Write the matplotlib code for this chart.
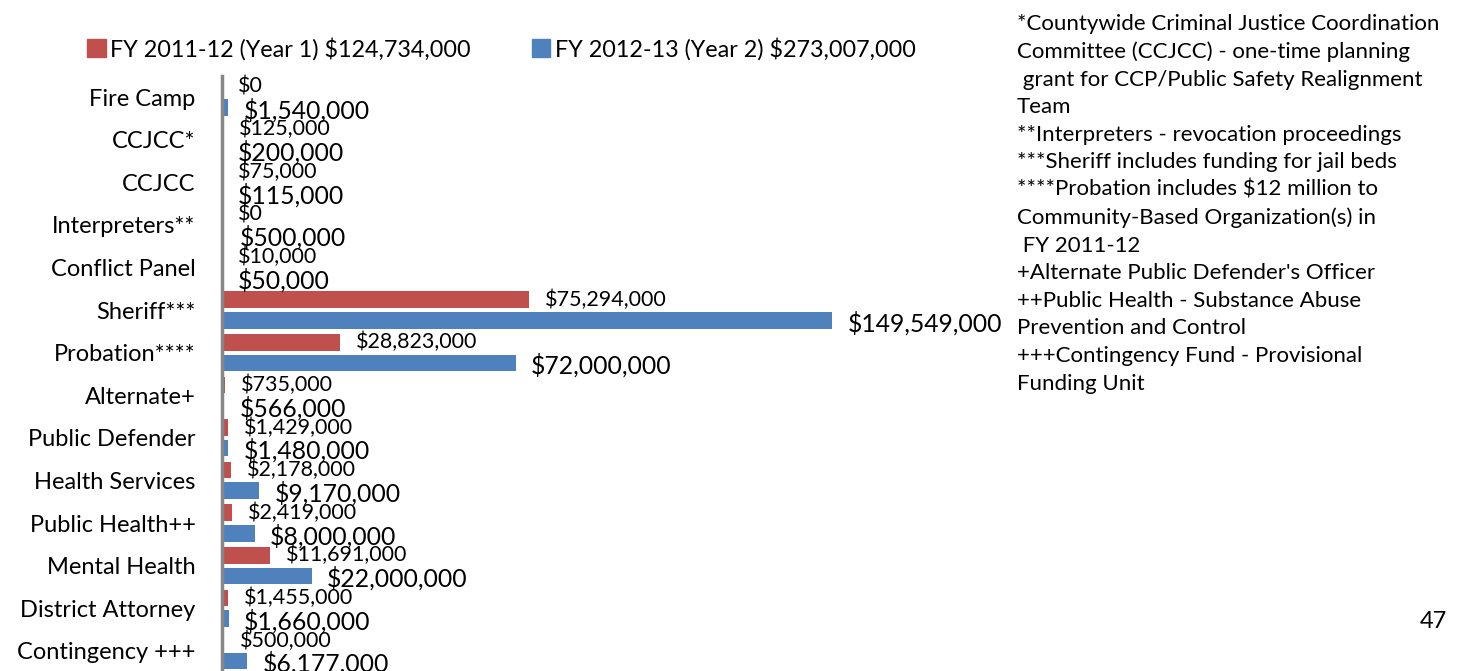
import matplotlib.pyplot as plt
from matplotlib.patches import Patch

plt.rcParams['font.family'] = ['Lato', 'DejaVu Sans']

categories = ["Fire Camp", "CCJCC*", "CCJCC", "Interpreters**", "Conflict Panel",
              "Sheriff***", "Probation****", "Alternate+", "Public Defender",
              "Health Services", "Public Health++", "Mental Health",
              "District Attorney", "Contingency +++"]
year1 = [0, 125000, 75000, 0, 10000, 75294000, 28823000, 735000, 1429000,
         2178000, 2419000, 11691000, 1455000, 500000]
year2 = [1540000, 200000, 115000, 500000, 50000, 149549000, 72000000, 566000,
         1480000, 9170000, 8000000, 22000000, 1660000, 6177000]
label1 = "FY 2011-12 (Year 1) $124,734,000"
label2 = "FY 2012-13 (Year 2) $273,007,000"

notes = ("*Countywide Criminal Justice Coordination\n"
         "Committee (CCJCC) - one-time planning\n"
         " grant for CCP/Public Safety Realignment\n"
         "Team\n"
         "**Interpreters - revocation proceedings\n"
         "***Sheriff includes funding for jail beds\n"
         "****Probation includes $12 million to\n"
         "Community-Based Organization(s) in\n"
         " FY 2011-12\n"
         "+Alternate Public Defender's Officer\n"
         "++Public Health - Substance Abuse\n"
         "Prevention and Control\n"
         "+++Contingency Fund - Provisional\n"
         "Funding Unit")

red = '#C0504D'
blue = '#4F81BD'

W, H = 1459, 671
fig = plt.figure(figsize=(W / 100, H / 100), dpi=100)
ax = fig.add_axes([222 / W, 0, (1000 - 222) / W, (H - 75.7) / H])

ypos = list(range(len(categories)))
off = 0.24
bh = 0.39
ax.barh([y - off for y in ypos], year1, height=bh, color=red)
ax.barh([y + off for y in ypos], year2, height=bh, color=blue)

# value labels next to each bar end
for y, v in zip(ypos, year1):
    ax.annotate(f"${v:,}", (v, y - off), xytext=(11.5, 0), textcoords='offset points',
                va='center', ha='left', fontsize=15.5)
for y, v in zip(ypos, year2):
    ax.annotate(f"${v:,}", (v, y + off), xytext=(11, -2), textcoords='offset points',
                va='center', ha='left', fontsize=17.8)

ax.set_xlim(0, 190.7e6)
ax.set_ylim(-0.5 + (H - 75.7) / 42.6, -0.5)
ax.set_yticks(ypos)
ax.set_yticklabels(categories, fontsize=17)
ax.tick_params(axis='y', length=0, pad=19)
ax.set_xticks([])
for s in ['top', 'right', 'bottom']:
    ax.spines[s].set_visible(False)
ax.spines['left'].set_color('#868686')
ax.spines['left'].set_linewidth(2.5)

handles = [Patch(color=red, label=label1), Patch(color=blue, label=label2)]
fig.legend(handles=handles, loc='center left', bbox_to_anchor=(66 / W, 1 - 49 / H),
           ncol=2, frameon=False, fontsize=16.8, handlelength=0.8, handleheight=0.8,
           handletextpad=0.2, columnspacing=2.6)

fig.text(1017 / W, 1 - 14 / H, notes, ha='left', va='top', fontsize=16,
         linespacing=1.47)
fig.text(1420 / W, 1 - 621 / H, "47", ha='left', va='center', fontsize=17)

fig.savefig('out.png', dpi=100)
